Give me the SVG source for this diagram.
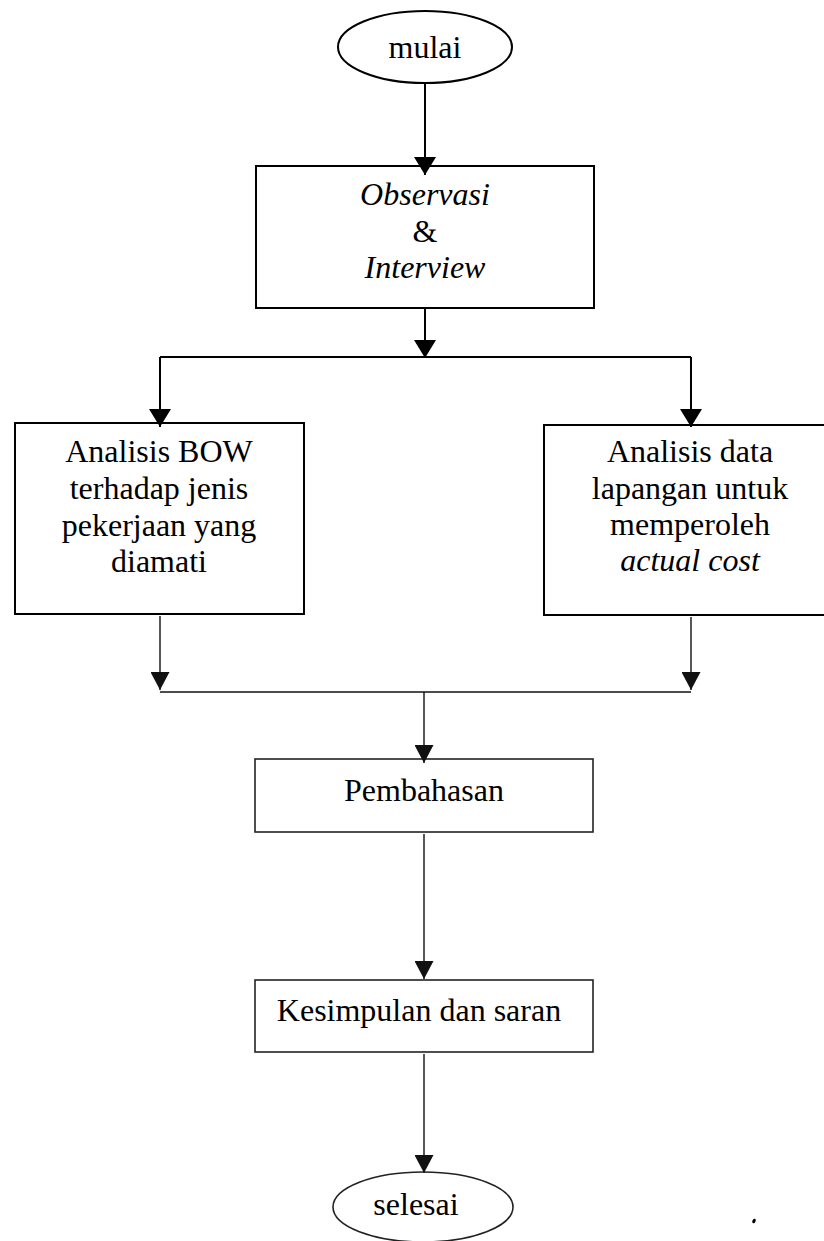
<svg xmlns="http://www.w3.org/2000/svg" width="824" height="1241" viewBox="0 0 824 1241">
<defs>
<marker id="ah" viewBox="0 0 18 22" refX="18" refY="11" markerWidth="18" markerHeight="22" markerUnits="userSpaceOnUse" orient="auto">
<path d="M0 0 L18 11 L0 22 Z" fill="#000"/>
</marker>
<marker id="ahs" viewBox="0 0 18 19" refX="18" refY="9.5" markerWidth="18" markerHeight="19" markerUnits="userSpaceOnUse" orient="auto">
<path d="M0 0 L18 9.5 L0 19 Z" fill="#111"/>
</marker>
<style>
.shape{fill:#fff;stroke:#000;stroke-width:2}
.thin{fill:#fff;stroke:#222;stroke-width:1.6}
.t{font-family:"Liberation Serif","Times New Roman",serif;font-size:32px;fill:#000;text-anchor:middle}
.i{font-style:italic}
.c{fill:none;stroke:#000;stroke-width:2}
.cs{fill:none;stroke:#111;stroke-width:1.4}
</style>
</defs>
<rect width="824" height="1241" fill="#fff"/>
<g id="mulai">
<ellipse class="shape" cx="425" cy="47" rx="87" ry="36"/>
<text class="t" x="425" y="58">mulai</text>
</g>
<g id="observasi">
<rect class="shape" x="256" y="166" width="338" height="142"/>
<text class="t i" x="425" y="205">Observasi</text>
<text class="t" x="425" y="242">&amp;</text>
<text class="t i" x="425" y="278">Interview</text>
</g>
<g id="analisis-bow">
<rect class="shape" x="15" y="423" width="289" height="191"/>
<text class="t" x="159" y="462">Analisis BOW</text>
<text class="t" x="159" y="499">terhadap jenis</text>
<text class="t" x="159" y="536">pekerjaan yang</text>
<text class="t" x="159" y="572">diamati</text>
</g>
<g id="analisis-data">
<rect class="shape" x="544" y="425" width="300" height="190"/>
<text class="t" x="690" y="462">Analisis data</text>
<text class="t" x="690" y="499">lapangan untuk</text>
<text class="t" x="690" y="535">memperoleh</text>
<text class="t i" x="690" y="571">actual cost</text>
</g>
<g id="pembahasan">
<rect class="thin" x="255" y="759" width="338" height="73"/>
<text class="t" x="424" y="801" fill="#222">Pembahasan</text>
</g>
<g id="kesimpulan">
<rect class="thin" x="255" y="980" width="338" height="72"/>
<text class="t" x="419" y="1021">Kesimpulan dan saran</text>
</g>
<g id="selesai">
<ellipse class="thin" cx="423" cy="1207" rx="90" ry="35"/>
<text class="t" x="416" y="1215">selesai</text>
</g>
<g id="connectors">
<path class="c" d="M425 83 V175" marker-end="url(#ah)"/>
<path class="c" d="M425 308 V358" marker-end="url(#ah)"/>
<path class="c" d="M160 357 H691"/>
<path class="c" d="M160 357 V427" marker-end="url(#ah)"/>
<path class="c" d="M691 357 V427" marker-end="url(#ah)"/>
<path class="cs" d="M160 616 V690" marker-end="url(#ahs)"/>
<path class="cs" d="M691 617 V690" marker-end="url(#ahs)"/>
<path class="cs" d="M160 692 H691"/>
<path class="cs" d="M424 692 V763" marker-end="url(#ahs)"/>
<path class="cs" d="M424 834 V979" marker-end="url(#ahs)"/>
<path class="cs" d="M424 1054 V1173" marker-end="url(#ahs)"/>
</g>
<ellipse cx="754" cy="1221" rx="1.6" ry="2.4" transform="rotate(25 754 1221)" fill="#000"/>
</svg>
